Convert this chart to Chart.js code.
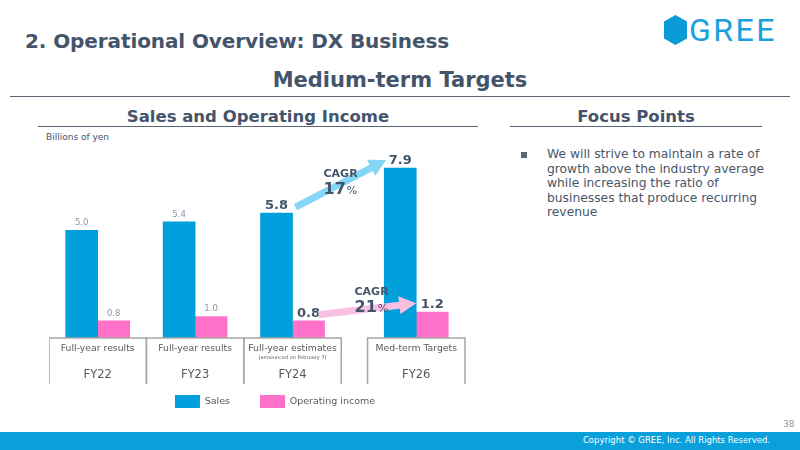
<!DOCTYPE html>
<html>
<head>
<meta charset="utf-8">
<script src="https://cdn.jsdelivr.net/npm/chart.js@4"></script>
<style>
  html, body { margin: 0; padding: 0; }
  body { width: 800px; height: 450px; position: relative; overflow: hidden; background: #fff; font-family: "DejaVu Sans", Verdana, sans-serif; color: #44546a; }
  .abs { position: absolute; white-space: nowrap; }
  #title { left: 25px; top: 29px; font-size: 20px; font-weight: bold; letter-spacing: -0.1px; }
  #sub { left: 0; width: 800px; top: 68px; text-align: center; font-size: 21px; font-weight: bold; }
  .rule { position: absolute; height: 0; border-top: 1.5px solid #5a6576; }
  .head { font-size: 16.5px; font-weight: bold; text-align: center; }
  #unit { left: 46px; top: 132px; font-size: 9px; }
  #bullet { left: 521px; top: 152px; width: 6px; height: 6px; background: #5a6576; position: absolute; }
  #focus { left: 547px; top: 147px; font-size: 12.3px; line-height: 14.6px; white-space: normal; width: 222px; color: #4a5668; }
  #logo { left: 664px; top: 14px; }
  #logoText { left: 689px; top: 11px; font-family: Roboto, sans-serif; font-size: 32px; color: #1aa1dc; letter-spacing: 2.5px; }
  #footer { position: absolute; left: 0; top: 432px; width: 800px; height: 18px; background: #0aa0dc; }
  #copy { right: 30px; top: 435px; font-size: 8.5px; color: #fff; }
  #page { left: 783px; top: 419px; font-size: 9px; color: #8a94a3; }
  #wrap { position: absolute; left: 49px; top: 140px; width: 452px; height: 278px; }
</style>
</head>
<body>
<div id="title" class="abs">2. Operational Overview: DX Business</div>
<svg id="logo" class="abs" width="24" height="32" viewBox="0 0 24 32"><polygon points="11.5,1 23,7.5 23,24.5 11.5,31 0,24.5 0,7.5" fill="#0a9ad6"/></svg>
<div id="logoText" class="abs">GREE</div>
<div id="sub" class="abs">Medium-term Targets</div>
<div class="rule" style="left:10px; width:780px; top:96px;"></div>
<div class="abs head" style="left:38px; width:440px; top:107px;">Sales and Operating Income</div>
<div class="rule" style="left:38px; width:440px; top:126px;"></div>
<div class="abs head" style="left:510px; width:252px; top:107px;">Focus Points</div>
<div class="rule" style="left:510px; width:252px; top:126px;"></div>
<div id="unit" class="abs">Billions of yen</div>
<div id="bullet"></div>
<div id="focus" class="abs">We will strive to maintain a rate of growth above the industry average while increasing the ratio of businesses that produce recurring revenue</div>
<div id="wrap"><canvas id="chart"></canvas></div>
<div id="page" class="abs">38</div>
<div id="footer"></div>
<div id="copy" class="abs">Copyright © GREE, Inc. All Rights Reserved.</div>

<script>
const years = ['FY22', 'FY23', 'FY24', 'FY26'];
const periodLabels = ['Full-year results', 'Full-year results', 'Full-year estimates', 'Med-term Targets'];
const periodNotes = ['', '', '(announced on February 7)', ''];
const sales = [5.0, 5.4, 5.8, 7.9];
const operatingIncome = [0.8, 1.0, 0.8, 1.2];
const cagrSales = '17';
const cagrIncome = '21';

// FY26 sits a little apart from the actual years
const slot = i => i + (i === 3 ? 0.27 : 0);
const toPoints = arr => arr.map((v, i) => ({ x: slot(i), y: v }));

const slideText = '#44546a';

const slidePlugin = {
  id: 'slide',
  afterDatasetsDraw(chart) {
    const ctx = chart.ctx;
    const xs = chart.scales.x;
    const area = chart.chartArea;
    const salesBars = chart.getDatasetMeta(0).data;
    const incomeBars = chart.getDatasetMeta(1).data;

    // value labels
    ctx.save();
    ctx.textAlign = 'center';
    ctx.textBaseline = 'alphabetic';
    [salesBars, incomeBars].forEach((bars, d) => {
      const vals = d === 0 ? sales : operatingIncome;
      bars.forEach((bar, i) => {
        if (i >= 2) {
          ctx.font = 'bold 13px "DejaVu Sans"';
          ctx.fillStyle = slideText;
          ctx.fillText(vals[i].toFixed(1), bar.x, bar.y - 4);
        } else {
          ctx.font = '8.5px "DejaVu Sans"';
          ctx.fillStyle = '#8c97a8';
          ctx.fillText(vals[i].toFixed(1), bar.x, bar.y - 5);
        }
      });
    });
    ctx.restore();

    // category boxes under the axis
    ctx.save();
    ctx.strokeStyle = '#a6a6a6';
    ctx.lineWidth = 1.5;
    const boxH = 46;
    years.forEach((y, i) => {
      const l = xs.getPixelForValue(slot(i) - 0.5);
      const r = xs.getPixelForValue(slot(i) + 0.5);
      const t = area.bottom;
      ctx.beginPath();
      ctx.moveTo(l, t + boxH); ctx.lineTo(l, t); ctx.lineTo(r, t); ctx.lineTo(r, t + boxH);
      ctx.stroke();
      const cx = (l + r) / 2;
      ctx.fillStyle = '#595959';
      ctx.textAlign = 'center';
      ctx.textBaseline = 'middle';
      ctx.font = '9.3px "DejaVu Sans"';
      ctx.fillText(periodLabels[i], cx, t + 11);
      if (periodNotes[i]) {
        ctx.font = '5px "DejaVu Sans"';
        ctx.fillText(periodNotes[i], cx, t + 20);
      }
      ctx.font = '11.5px "DejaVu Sans"';
      ctx.fillText(y, cx, t + 37);
    });
    ctx.restore();

    // CAGR arrows
    const arrow = (x1, y1, x2, y2, color) => {
      const ang = Math.atan2(y2 - y1, x2 - x1);
      const head = 17, half = 9, shaft = 3.5;
      const bx = x2 - head * Math.cos(ang), by = y2 - head * Math.sin(ang);
      const nx = -Math.sin(ang), ny = Math.cos(ang);
      ctx.save();
      ctx.fillStyle = color;
      ctx.beginPath();
      ctx.moveTo(x1 + nx * shaft, y1 + ny * shaft);
      ctx.lineTo(bx + nx * shaft, by + ny * shaft);
      ctx.lineTo(bx + nx * half, by + ny * half);
      ctx.lineTo(x2, y2);
      ctx.lineTo(bx - nx * half, by - ny * half);
      ctx.lineTo(bx - nx * shaft, by - ny * shaft);
      ctx.lineTo(x1 - nx * shaft, y1 - ny * shaft);
      ctx.closePath();
      ctx.fill();
      ctx.restore();
    };
    const s24 = salesBars[2], s26 = salesBars[3];
    const o24 = incomeBars[2], o26 = incomeBars[3];
    arrow(s24.x + s24.width / 2 + 3, s24.y - 6, s26.x - s26.width / 2 + 2, s26.y - 8, '#84d6f6');
    arrow(o24.x + 10, o24.y - 6, o26.x - o26.width / 2, o26.y - 9, '#f9bfe2');

    const cagr = (x, y, pct) => {
      ctx.save();
      ctx.fillStyle = slideText;
      ctx.textAlign = 'left';
      ctx.textBaseline = 'middle';
      ctx.font = 'bold 11px "DejaVu Sans"';
      ctx.fillText('CAGR', x, y);
      ctx.font = 'bold 16px "DejaVu Sans"';
      ctx.fillText(pct, x, y + 16);
      const w = ctx.measureText(pct).width;
      ctx.font = '11px "DejaVu Sans"';
      ctx.fillText('%', x + w + 1, y + 17);
      ctx.restore();
    };
    cagr(s24.x + s24.width / 2 + 31, s24.y - 39, cagrSales);
    cagr(o24.x + 46, o24.y - 29, cagrIncome);
  }
};

new Chart(document.getElementById('chart'), {
  type: 'bar',
  data: {
    datasets: [{
      label: 'Sales',
      data: toPoints(sales),
      backgroundColor: '#00a0dc',
      borderWidth: 0
    }, {
      label: 'Operating income',
      data: toPoints(operatingIncome),
      backgroundColor: '#ff70c8',
      borderWidth: 0
    }]
  },
  options: {
    responsive: true,
    maintainAspectRatio: false,
    animation: false,
    layout: { padding: 0 },
    datasets: { bar: { barThickness: 32 } },
    scales: {
      x: {
        type: 'linear',
        offset: false,
        min: -0.5,
        max: 4.14,
        grid: { display: false, drawTicks: false },
        border: { display: false },
        ticks: { display: false },
        afterFit(scale) { scale.height = 27; }
      },
      y: {
        display: false,
        min: 0,
        max: 9.2
      }
    },
    plugins: {
      legend: {
        position: 'bottom',
        labels: {
          boxWidth: 25,
          boxHeight: 13,
          padding: 30,
          color: '#595959',
          font: { family: '"DejaVu Sans"', size: 9.5 }
        }
      },
      tooltip: { enabled: false }
    }
  },
  plugins: [slidePlugin]
});
</script>
</body>
</html>
